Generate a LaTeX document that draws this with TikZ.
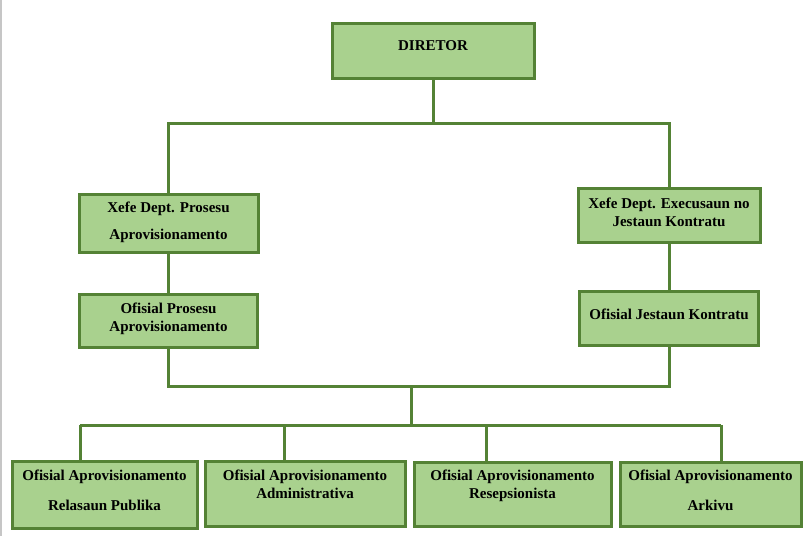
\documentclass[tikz,border=0pt]{standalone}
\usepackage{fontspec}
\setmainfont{Liberation Serif}
\usepackage{tikz}

\definecolor{boxfill}{HTML}{A9D18E}
\definecolor{boxline}{HTML}{548235}

\tikzset{
  unit/.style={draw=boxline, fill=boxfill, line width=3pt, rectangle, inner sep=0pt},
  txt/.style={align=center, inner sep=0pt, font=\bfseries\fontsize{15}{18}\selectfont},
  link/.style={draw=boxline, line width=3pt}
}

\begin{document}
\begin{tikzpicture}[x=1pt, y=-1pt]
			% Marco de la pagina
			\useasboundingbox (0,0) rectangle (811,536);
			\draw[gray!45, line width=1.5pt] (0.75,0) -- (0.75,536);

			% Cajas de las unidades
			\node[unit, minimum width=202pt, minimum height=55pt] (dir) at (433,50.5) {};
			\node[unit, minimum width=179pt, minimum height=58pt] (l1) at (168.5,223) {};
			\node[unit, minimum width=182pt, minimum height=54pt] (r1) at (669,215) {};
			\node[unit, minimum width=178pt, minimum height=53pt] (l2) at (168.5,320.5) {};
			\node[unit, minimum width=179pt, minimum height=54pt] (r2) at (669,318) {};
			\node[unit, minimum width=185pt, minimum height=67pt] (b1) at (104.5,494.5) {};
			\node[unit, minimum width=200pt, minimum height=65pt] (b2) at (305,493.5) {};
			\node[unit, minimum width=197pt, minimum height=64pt] (b3) at (512.5,494) {};
			\node[unit, minimum width=181pt, minimum height=64pt] (b4) at (710.5,494) {};

			% Textos de las cajas
			\node[txt] (dirt) at (433,45.5) {DIRETOR};
			\node[txt] (l1t) at (168.5,222.5) {Xefe Dept. Prosesu\\[9pt]Aprovisionamento};
			\node[txt] (r1t) at (669,212.5) {Xefe Dept. Execusaun no\\Jestaun Kontratu};
			\node[txt] (l2t) at (168.5,319) {Ofisial Prosesu\\Aprovisionamento};
			\node[txt] (r2t) at (669,314) {Ofisial Jestaun Kontratu};
			\node[txt] (b1t) at (104.5,490) {Ofisial Aprovisionamento\\[12pt]Relasaun Publika};
			\node[txt] (b2t) at (305,484) {Ofisial Aprovisionamento\\Administrativa};
			\node[txt] (b3t) at (512.5,486) {Ofisial Aprovisionamento\\Resepsionista};
			\node[txt] (b4t) at (710.5,490) {Ofisial Aprovisionamento\\[12pt]Arkivu};

			% Puntos de las lineas
			\coordinate (bus1) at (433,123);
			\coordinate (bus2) at (411,386);
			\coordinate (bus3) at (411,425);
			\coordinate (t1) at (80,425);
			\coordinate (t2) at (284,425);
			\coordinate (t3) at (486,425);
			\coordinate (t4) at (721,425);

			% Lineas de conexion
			\draw[link] (dir.south) -- (bus1);
			\draw[link] (l1.north) |- (bus1) -| (r1.north);
			\draw[link] (l1.south) -- (l2.north);
			\draw[link] (r1.south) -- (r2.north);
			\draw[link] (l2.south) |- (bus2) -| (r2.south);
			\draw[link] (bus2) -- (bus3);
			\draw[link] (t1) -- (t4);
			\draw[link] (t1) -- (t1 |- b1.north);
			\draw[link] (t2) -- (t2 |- b2.north);
			\draw[link] (t3) -- (t3 |- b3.north);
			\draw[link] (t4) -- (t4 |- b4.north);

		\end{tikzpicture}
\end{document}
